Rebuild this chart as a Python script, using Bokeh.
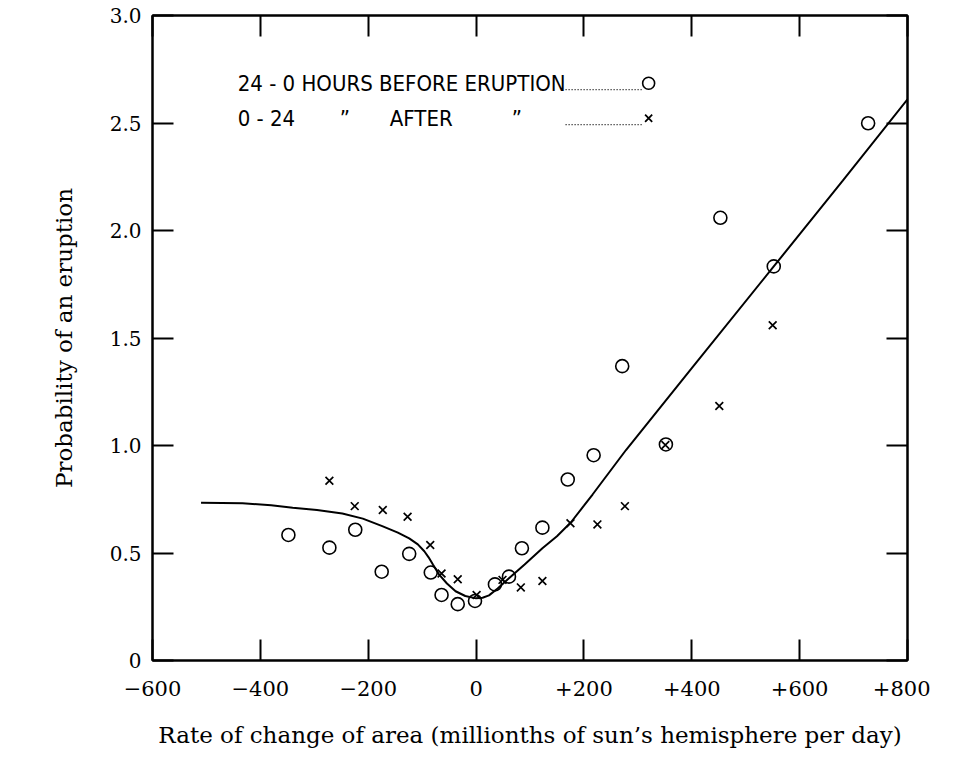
from bokeh.plotting import figure
from bokeh.models import LinearAxis, FixedTicker, Label
from bokeh.embed import file_html
from bokeh.resources import INLINE

# ---- data ----
before_x = [-348, -272, -224, -175, -124, -84, -64, -34, -2, 35, 61, 85, 123, 170, 218, 271, 352, 453, 552, 727]
before_y = [0.584, 0.525, 0.608, 0.413, 0.496, 0.409, 0.305, 0.262, 0.277, 0.354, 0.390, 0.522, 0.618, 0.842, 0.955, 1.369, 1.005, 2.059, 1.833, 2.499]

after_x = [-272, -225, -173, -127, -85, -64, -34, 1, 49, 83, 123, 175, 225, 276, 351, 451, 550]
after_y = [0.836, 0.718, 0.700, 0.669, 0.537, 0.405, 0.378, 0.305, 0.375, 0.340, 0.370, 0.638, 0.633, 0.718, 1.002, 1.184, 1.559]

curve_x = [-510, -433, -380, -340, -295, -248, -210, -174, -145, -124, -108, -96, -88, -80, -68, -54,
           -38, -20, 0, 12, 24, 40, 61, 90, 123, 150, 176, 200, 216, 278, 400, 552, 680, 800]
curve_y = [0.734, 0.731, 0.722, 0.711, 0.700, 0.684, 0.660, 0.625, 0.595, 0.568, 0.540, 0.508, 0.480,
           0.446, 0.398, 0.358, 0.322, 0.300, 0.289, 0.292, 0.303, 0.335, 0.382, 0.447, 0.522, 0.578,
           0.643, 0.720, 0.772, 0.979, 1.360, 1.833, 2.232, 2.610]

x_ticks = [-600, -400, -200, 0, 200, 400, 600, 800]
x_tick_labels = ["\u2212600", "\u2212400", "\u2212200", "0", "+200", "+400", "+600", "+800"]
y_ticks = [0, 0.5, 1.0, 1.5, 2.0, 2.5, 3.0]
y_tick_labels = ["0", "0.5", "1.0", "1.5", "2.0", "2.5", "3.0"]

legend_before = "24 - 0 HOURS BEFORE ERUPTION"
legend_after_parts = ["0 - 24", "\u201D", "AFTER", "\u201D"]

SERIF = "DejaVu Serif"
SANS = "'DejaVu Sans Condensed', 'Liberation Sans'"

p = figure(width=930, height=750, x_range=(-600, 800), y_range=(0, 3.0),
           output_backend="svg", toolbar_location=None,
           min_border_left=152, min_border_right=23, min_border_top=15, min_border_bottom=89)
p.xgrid.visible = False
p.ygrid.visible = False
p.outline_line_color = "black"
p.outline_line_width = 2
p.background_fill_color = "white"
p.border_fill_color = "white"

def style(ax, ticks, labels, show):
    ax.ticker = FixedTicker(ticks=ticks)
    ax.major_label_overrides = {t: l for t, l in zip(ticks, labels)}
    ax.minor_tick_line_color = None
    ax.major_tick_in = 21
    ax.major_tick_out = 0
    ax.major_tick_line_width = 2
    ax.major_tick_line_color = "black"
    ax.axis_line_width = 2
    ax.axis_line_color = "black"
    if not show:
        ax.major_label_text_font_size = "0px"
        ax.major_label_standoff = 0

# bottom / left axes
xa = p.xaxis[0]
style(xa, x_ticks, x_tick_labels, True)
xa.major_label_text_font = SERIF
xa.major_label_text_font_size = "21px"
xa.major_label_text_color = "black"
xa.major_label_standoff = 20
xa.axis_label = "Rate of change of area (millionths of sun\u2019s hemisphere per day)"
xa.axis_label_text_font = SERIF
xa.axis_label_text_font_size = "23px"
xa.axis_label_text_font_style = "normal"
xa.axis_label_text_color = "black"
xa.axis_label_standoff = 23

ya = p.yaxis[0]
style(ya, y_ticks, y_tick_labels, True)
ya.major_label_text_font = SERIF
ya.major_label_text_font_size = "20px"
ya.major_label_text_color = "black"
ya.major_label_standoff = 11
ya.axis_label = "Probability of an eruption"
ya.axis_label_text_font = SERIF
ya.axis_label_text_font_size = "23px"
ya.axis_label_text_font_style = "normal"
ya.axis_label_text_color = "black"
ya.axis_label_standoff = 30

top = LinearAxis()
style(top, x_ticks, x_tick_labels, False)
p.add_layout(top, "above")
right = LinearAxis()
style(right, y_ticks, y_tick_labels, False)
p.add_layout(right, "right")

# curve and points
p.line(curve_x, curve_y, line_color="black", line_width=2)
p.scatter(before_x, before_y, marker="circle", size=13, fill_color=None,
          line_color="black", line_width=1.6)
p.scatter(after_x, after_y, marker="x", size=11, line_color="black", line_width=1.7)

# legend (layout positions in data units)
LEG_X = -442
ROW1_Y, ROW2_Y = 2.685, 2.522
p.add_layout(Label(x=LEG_X, y=ROW1_Y, text=legend_before, text_baseline="middle",
                   text_font=SANS, text_font_size="22px", text_color="black"))
part_x = [LEG_X, -253, -160, 66]
for px_, t in zip(part_x, legend_after_parts):
    p.add_layout(Label(x=px_, y=ROW2_Y, text=t, text_baseline="middle",
                       text_font=SANS, text_font_size="22px", text_color="black"))
DOT_X0, DOT_X1, KEY_X = 166, 309, 320
p.line([DOT_X0, DOT_X1], [ROW1_Y - 0.03, ROW1_Y - 0.03], line_color="black",
       line_width=1.2, line_dash="1 2")
p.line([DOT_X0, DOT_X1], [ROW2_Y - 0.03, ROW2_Y - 0.03], line_color="black",
       line_width=1.2, line_dash="1 2")
p.scatter([KEY_X], [ROW1_Y], marker="circle", size=12, fill_color=None,
          line_color="black", line_width=1.6)
p.scatter([KEY_X], [ROW2_Y], marker="x", size=10, line_color="black", line_width=1.8)

open("out.html", "w").write(file_html(p, INLINE))
